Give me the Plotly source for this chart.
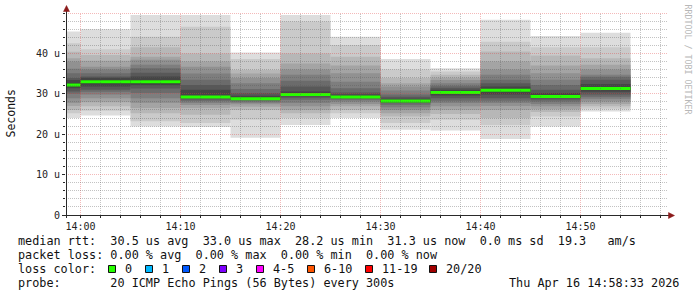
import numpy as np
import plotly.graph_objects as go
from datetime import datetime, timedelta
import math

# ---------------- data ----------------
# start time of each 5-minute SmokePing step (300 s)
step_start = [
    "2026-04-16 13:55:00", "2026-04-16 14:00:00", "2026-04-16 14:05:00",
    "2026-04-16 14:10:00", "2026-04-16 14:15:00", "2026-04-16 14:20:00",
    "2026-04-16 14:25:00", "2026-04-16 14:30:00", "2026-04-16 14:35:00",
    "2026-04-16 14:40:00", "2026-04-16 14:45:00", "2026-04-16 14:50:00",
]
step_seconds = 300

# 20 sorted ping RTTs per step, in microseconds
pings_0 = [24.0, 25.2, 26.0, 27.0, 27.7, 28.9, 30.0, 30.6, 31.4, 31.8, 32.6, 33.4, 33.9, 35.1, 36.2, 38.0, 38.8, 40.4, 42.5, 45.4]
pings_1 = [24.6, 25.8, 26.9, 27.9, 28.9, 29.8, 30.5, 31.0, 31.8, 32.6, 33.4, 34.0, 34.3, 35.1, 36.0, 36.7, 38.2, 39.6, 41.0, 46.0]
pings_2 = [21.9, 23.2, 25.2, 26.5, 27.7, 28.9, 30.2, 31.3, 32.1, 32.6, 33.4, 34.3, 35.2, 36.3, 37.2, 38.4, 39.2, 41.5, 44.1, 49.5]
pings_3 = [21.8, 22.8, 24.8, 26.5, 27.2, 27.7, 28.2, 28.6, 28.9, 29.0, 29.4, 31.0, 32.2, 33.5, 35.0, 36.7, 38.0, 40.0, 46.6, 49.5]
pings_4 = [19.1, 23.6, 26.0, 26.8, 27.4, 27.7, 28.1, 28.4, 28.6, 28.7, 28.9, 29.5, 30.2, 31.2, 32.6, 33.9, 35.0, 35.9, 38.6, 40.2]
pings_5 = [22.3, 24.0, 25.2, 26.0, 26.9, 27.7, 28.5, 29.0, 29.4, 29.6, 30.0, 30.6, 31.8, 33.2, 34.7, 36.0, 37.5, 40.0, 47.9, 49.5]
pings_6 = [24.0, 25.2, 26.0, 26.9, 27.5, 28.1, 28.5, 28.8, 29.0, 29.1, 29.3, 29.8, 30.3, 31.4, 33.0, 35.1, 37.0, 39.2, 42.1, 44.1]
pings_7 = [21.1, 22.8, 24.4, 25.2, 26.0, 26.7, 27.3, 27.7, 27.9, 28.1, 28.3, 28.8, 29.3, 29.8, 30.8, 31.8, 32.6, 33.9, 36.0, 38.6]
pings_8 = [20.9, 23.6, 25.0, 26.0, 26.9, 27.7, 28.3, 28.9, 29.6, 30.1, 30.5, 31.0, 31.5, 32.0, 32.6, 33.4, 34.0, 34.7, 35.5, 36.3]
pings_9 = [18.8, 22.3, 24.0, 26.0, 27.0, 27.7, 28.3, 28.9, 29.8, 30.6, 31.2, 31.8, 32.6, 33.5, 34.7, 36.0, 38.0, 40.5, 42.9, 48.3]
pings_10 = [21.9, 24.4, 25.5, 26.2, 26.9, 27.5, 28.1, 28.6, 29.0, 29.2, 29.5, 30.2, 31.0, 32.2, 33.5, 35.1, 37.0, 39.5, 41.5, 44.3]
pings_11 = [25.6, 26.3, 26.9, 27.5, 28.1, 28.8, 29.3, 29.8, 30.5, 31.0, 31.6, 32.4, 33.5, 34.2, 34.7, 36.0, 37.2, 38.8, 41.5, 45.1]
all_pings = [pings_0, pings_1, pings_2, pings_3, pings_4, pings_5,
             pings_6, pings_7, pings_8, pings_9, pings_10, pings_11]

view_start = "2026-04-16 13:58:33"
view_end = "2026-04-16 14:58:33"

y_tickvals = [0, 10, 20, 30, 40]
y_ticktext = ["0", "10 u", "20 u", "30 u", "40 u"]
x_tick_labels = ["14:00", "14:10", "14:20", "14:30", "14:40", "14:50"]

loss_labels = ["0", "1", "2", "3", "4-5", "6-10", "11-19", "20/20"]
loss_colors = ["#26ff00", "#00b8ff", "#0059ff", "#7e00ff", "#ff00ff", "#ff5500", "#ff0000", "#a10000"]

legend_lines = [
    "median rtt:  30.5 us avg  33.0 us max  28.2 us min  31.3 us now  0.0 ms sd  19.3   am/s",
    "packet loss: 0.00 % avg  0.00 % max  0.00 % min  0.00 % now",
    "loss color:",
    "probe:       20 ICMP Echo Pings (56 Bytes) every 300s",
]
stamp_text = "Thu Apr 16 14:58:33 2026"
watermark = "RRDTOOL / TOBI OETIKER"

# ---------------- geometry ----------------
W, H = 697, 297
ML, MR, MT, MB = 66, 31, 13, 82
PW = W - ML - MR
PH = H - MT - MB
MONO = "DejaVu Sans Mono"
Y_MAX = 50


def px(xp):
    return (xp - ML) / PW


def py(yp):
    return (H - MB - yp) / PH


def nb(s):
    return s.replace(" ", "\u00a0")


fig = go.Figure()

starts = [datetime.strptime(s, "%Y-%m-%d %H:%M:%S") for s in step_start]
arr = np.array(all_pings)
n = arr.shape[1]
half = n / 2
# smoke bands (SmokePing smokecol): outer light -> inner dark
ibot, itop = 1, n
while itop > ibot:
    g = int(190 / half * (half - ibot)) + 50
    col = "#%02x%02x%02x" % (g, g, g)
    lo = arr[:, ibot - 1]
    hi = arr[:, itop - 1]
    fig.add_trace(go.Bar(
        x=starts, y=hi - lo, base=lo, width=step_seconds * 1000, offset=0,
        marker=dict(color=col, line=dict(width=0)), hoverinfo="skip",
    ))
    ibot += 1
    itop -= 1

# median: one horizontal segment per step (no vertical connectors)
medians = np.median(arr, axis=1)
mx, my = [], []
for s, med in zip(starts, medians):
    mx += [s, s + timedelta(seconds=step_seconds), None]
    my += [med, med, None]
fig.add_trace(go.Scatter(
    x=mx, y=my, mode="lines", line=dict(color=loss_colors[0], width=3),
    connectgaps=False, hoverinfo="skip",
))

shapes = []
MAJ = "rgba(225,60,60,0.36)"
MIN = "rgba(90,90,90,0.36)"
# grid drawn over the smoke (rrdtool style)
t0 = datetime(2026, 4, 16, 14, 0, 0)
vs = datetime.strptime(view_start, "%Y-%m-%d %H:%M:%S")
ve = datetime.strptime(view_end, "%Y-%m-%d %H:%M:%S")
m = -2
while True:
    t = t0 + timedelta(minutes=m)
    if t > ve:
        break
    if t >= vs:
        major = (m % 10 == 0)
        shapes.append(dict(type="line", xref="x", yref="paper", x0=t, x1=t, y0=0, y1=1,
                           line=dict(color=MAJ if major else MIN, width=1, dash="1px,1px"), layer="above"))
    m += 2
for v in range(2, 51, 2):
    major = (v % 10 == 0)
    ypix = (H - MB) - v * PH / Y_MAX
    ypix = math.floor(ypix) + 0.5
    shapes.append(dict(type="line", xref="paper", yref="paper", x0=0, x1=px(668), y0=py(ypix), y1=py(ypix),
                       line=dict(color=MAJ if major else MIN, width=1, dash="1px,1px"), layer="above"))

# axis lines and arrows
axis_col = "#2a2a2a"
shapes.append(dict(type="line", xref="paper", yref="paper", x0=px(62), x1=px(670),
                   y0=py(215.5), y1=py(215.5), line=dict(color=axis_col, width=1), layer="above"))
shapes.append(dict(type="line", xref="paper", yref="paper", x0=px(66.5), x1=px(66.5),
                   y0=py(218), y1=py(9), line=dict(color=axis_col, width=1), layer="above"))
arrow_col = "#8b1a1a"
shapes.append(dict(type="path", xref="paper", yref="paper",
                   path="M %f %f L %f %f L %f %f Z" % (px(63.5), py(11.5), px(69.5), py(11.5), px(66.5), py(5.5)),
                   fillcolor=arrow_col, line=dict(color=arrow_col, width=0.5), layer="above"))
shapes.append(dict(type="path", xref="paper", yref="paper",
                   path="M %f %f L %f %f L %f %f Z" % (px(668.5), py(212.5), px(668.5), py(218.5), px(674.5), py(215.5)),
                   fillcolor=arrow_col, line=dict(color=arrow_col, width=0.5), layer="above"))

annotations = []
# y title
annotations.append(dict(text="Seconds", xref="paper", yref="paper", x=px(10.5), y=0.5,
                        xanchor="center", yanchor="middle", textangle=-90, showarrow=False,
                        font=dict(family=MONO, size=11.5, color="#111")))
# watermark
annotations.append(dict(text=nb(watermark), xref="paper", yref="paper", x=px(687.5), y=py(59),
                        xanchor="center", yanchor="middle", textangle=90, showarrow=False,
                        font=dict(family=MONO, size=8.3, color="#b8b8b8")))
# legend lines
line_y_px = [241.3, 255.0, 269.0, 283.2]
for txt, yy in zip(legend_lines, line_y_px):
    annotations.append(dict(text=nb(txt), xref="paper", yref="paper", x=px(15.5), y=py(yy),
                            xanchor="left", yanchor="middle", showarrow=False,
                            font=dict(family=MONO, size=11.8, color="#111")))
annotations.append(dict(text=nb(stamp_text), xref="paper", yref="paper", x=px(681), y=py(283.2),
                        xanchor="right", yanchor="middle", showarrow=False,
                        font=dict(family=MONO, size=11.8, color="#111")))
# loss colour boxes
box_x = [108.5, 145.5, 182.5, 219.5, 256.5, 307.5, 365.5, 429.5]
for lab, colr, bx in zip(loss_labels, loss_colors, box_x):
    shapes.append(dict(type="rect", xref="paper", yref="paper", x0=px(bx), x1=px(bx + 7),
                       y0=py(272.5), y1=py(265.5), fillcolor=colr,
                       line=dict(color="#111", width=1), layer="above"))
    annotations.append(dict(text=nb(lab), xref="paper", yref="paper", x=px(bx + 14.5), y=py(269.0),
                            xanchor="left", yanchor="middle", showarrow=False,
                            font=dict(family=MONO, size=11.8, color="#111")))

x_tickvals = [t0 + timedelta(minutes=10 * i) for i in range(len(x_tick_labels))]

fig.update_layout(
    width=W, height=H, margin=dict(l=ML, r=MR, t=MT, b=MB, pad=0),
    paper_bgcolor="white", plot_bgcolor="white",
    barmode="overlay", showlegend=False,
    shapes=shapes, annotations=annotations,
    xaxis=dict(type="date", range=[vs, ve], showgrid=False, zeroline=False,
               tickvals=x_tickvals, ticktext=x_tick_labels,
               ticks="outside", ticklen=2, tickcolor=axis_col,
               tickfont=dict(family=MONO, size=10, color="#222"),
               minor=dict(dtick=120000, ticks="outside", ticklen=2, tickcolor=axis_col, showgrid=False),
               showline=False, fixedrange=True),
    yaxis=dict(range=[0, Y_MAX], showgrid=False, zeroline=False,
               tickvals=y_tickvals, ticktext=y_ticktext,
               ticks="outside", ticklen=3, tickcolor=axis_col,
               tickfont=dict(family=MONO, size=10, color="#222"),
               minor=dict(dtick=2, ticks="outside", ticklen=2, tickcolor=axis_col, showgrid=False),
               showline=False, fixedrange=True),
)

fig.write_html("out.html")
